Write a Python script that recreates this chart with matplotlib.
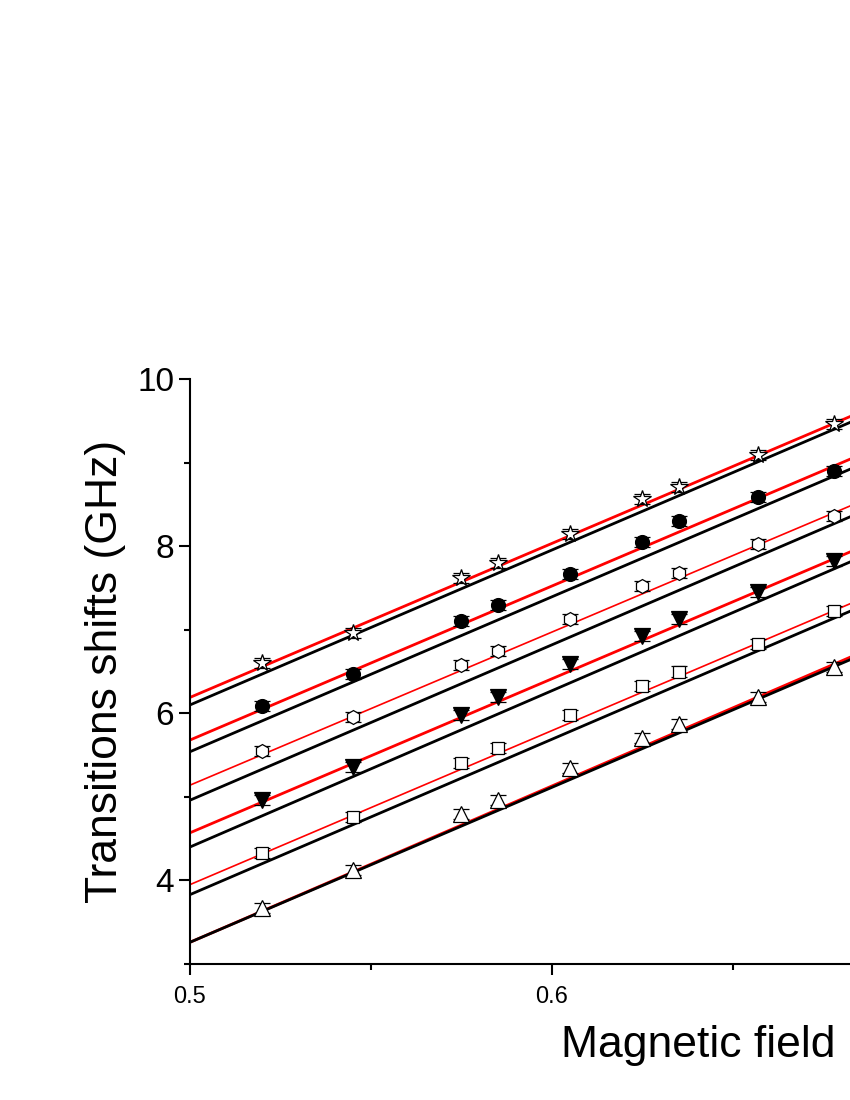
import matplotlib
matplotlib.use("Agg")
import matplotlib.pyplot as plt
import numpy as np

plt.rcParams["font.family"] = "Liberation Sans"

# magnetic field (T)
field = [0.52, 0.545, 0.575, 0.585, 0.605, 0.625, 0.635, 0.657, 0.678]

# transition shifts (GHz), one list per marker series
star = [6.60, 6.96, 7.62, 7.80, 8.15, 8.56, 8.71, 9.09, 9.46]
circle = [6.09, 6.47, 7.11, 7.30, 7.67, 8.05, 8.30, 8.59, 8.90]
hexagon = [5.55, 5.95, 6.58, 6.75, 7.13, 7.52, 7.68, 8.03, 8.36]
down_tri = [4.96, 5.36, 5.98, 6.19, 6.59, 6.93, 7.13, 7.45, 7.82]
square = [4.33, 4.76, 5.41, 5.58, 5.98, 6.33, 6.50, 6.83, 7.22]
up_tri = [3.67, 4.12, 4.80, 4.96, 5.34, 5.70, 5.87, 6.19, 6.55]
err = 0.06

# fit lines: value at 0.5 T and at 0.6823 T (red / black pairs)
line_start = [6.19, 6.10, 5.68, 5.54, 5.14, 4.96, 4.57, 4.40, 3.95, 3.83, 3.26, 3.26]
line_end = [9.55, 9.48, 9.04, 8.92, 8.48, 8.35, 7.93, 7.81, 7.31, 7.22, 6.67, 6.64]
line_color = ["red", "black"] * 6
line_width = [2, 2, 2, 2, 1.2, 2, 2, 2, 1.2, 2, 2, 2]

fig = plt.figure(figsize=(8.5, 11), dpi=100)
ax = fig.add_axes([190 / 850, 136 / 1100, 0.3 * 3620 / 850, 585 / 1100])

x0, x1 = 0.5, 0.6823
for a, b, c, w in zip(line_start, line_end, line_color, line_width):
    slope = (b - a) / (x1 - x0)
    xs = np.array([0.5, 0.8])
    ax.plot(xs, a + slope * (xs - x0), color=c, lw=w, zorder=2)

series = [
    (star, "*", "white", 13),
    (circle, "o", "black", 10),
    (hexagon, "h", "white", 10),
    (down_tri, "v", "black", 11),
    (square, "s", "white", 8.5),
    (up_tri, "^", "white", 11),
]
for vals, m, fc, ms in series:
    ax.errorbar(field, vals, yerr=err, fmt=m, mfc=fc, mec="black", ecolor="black",
                ms=ms, mew=0.9, elinewidth=0.9, capsize=6, capthick=0.9, zorder=3)

ax.set_xlim(0.5, 0.8)
ax.set_ylim(3, 10)
ax.set_xticks([0.5, 0.6, 0.7, 0.8])
ax.set_xticks([0.55, 0.65, 0.75], minor=True)
ax.set_yticks([4, 6, 8, 10])
ax.set_yticks([3, 5, 7, 9], minor=True)
ax.tick_params(axis="x", which="major", labelsize=17, length=8, width=1.5, pad=8)
ax.tick_params(axis="y", which="major", labelsize=24, length=8, width=1.5)
ax.tick_params(which="minor", length=4, width=1.5)
for s in ["top", "right"]:
    ax.spines[s].set_visible(False)
for s in ["left", "bottom"]:
    ax.spines[s].set_linewidth(1.5)

ax.set_xlabel("Magnetic field (T)", fontsize=32, labelpad=12)
ax.set_ylabel("Transitions shifts (GHz)", fontsize=32, labelpad=8)

fig.savefig("out.png", dpi=100)
